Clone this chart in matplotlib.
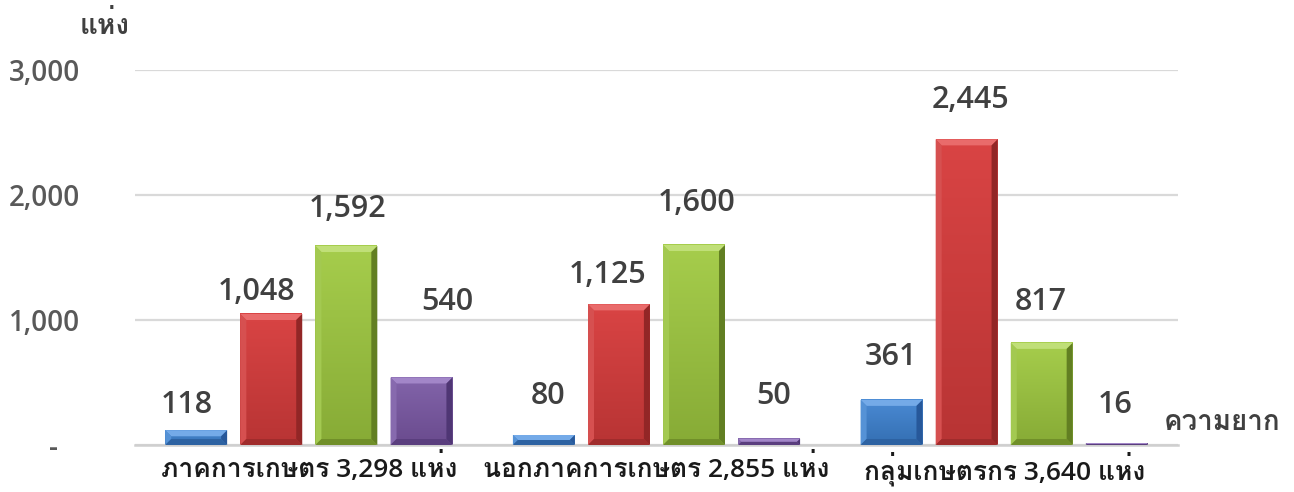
import matplotlib
matplotlib.use('Agg')
import matplotlib.pyplot as plt
from matplotlib import font_manager
from matplotlib.patches import Polygon
from matplotlib.transforms import IdentityTransform
from matplotlib.colors import LinearSegmentedColormap
import numpy as np

# ---------------- data ----------------
categories = ['ภาคการเกษตร 3,298 แห่ง', 'นอกภาคการเกษตร 2,855 แห่ง', 'กลุ่มเกษตรกร 3,640 แห่ง']
series_blue = [118, 80, 361]
series_red = [1048, 1125, 2445]
series_green = [1592, 1600, 817]
series_purple = [540, 50, 16]
ytick_values = [0, 1000, 2000, 3000]
ytick_labels = ['-   ', '1,000', '2,000', '3,000']
y_unit = 'แห่ง'
x_unit = 'ความยาก'

label_dx = [[-9, 4, -1], [-15, -11, 4], [1, 3, -1], [26, 4, -2]]
label_dy = [[25, 39, 43], [22, 29, 39], [37, 42, 41], [75, 43, 38]]

# ---------------- font ----------------
names = {f.name for f in font_manager.fontManager.ttflist}
fam = [n for n in ['Open Sans', 'Loma', 'Noto Sans Thai Looped', 'Noto Sans Thai'] if n in names]
plt.rcParams['font.family'] = fam + ['DejaVu Sans']

W, H = 1294, 492
fig = plt.figure(figsize=(W / 100, H / 100), dpi=100)
ax = fig.add_axes([135 / W, 1 - 445 / H, (1178 - 135) / W, (445 - 70) / H])

series = [series_blue, series_red, series_green, series_purple]
faces = [('#4a8ad4', '#346fb2'), ('#d94444', '#b83434'), ('#a6cd4c', '#87ab36'), ('#8264aa', '#6a4b8e')]
tops = ['#74aae8', '#e96b6b', '#c0df78', '#a286c8']
lefts = ['#5592d6', '#d65050', '#a3c951', '#876aae']
rights = ['#27589a', '#922626', '#627f22', '#4f3674']
bottoms = ['#2d62a2', '#a02c2c', '#708f29', '#5a3e7e']

x = np.arange(len(categories))
step = 0.216
bw = 0.178
FS = 20
FS_CAT = 19
FS_VAL = 22
WT = 'semibold'

ax.set_yticks(ytick_values)
ax.set_yticklabels(ytick_labels)
ax.tick_params(axis='y', length=0, pad=55 * 0.72, labelsize=FS, labelcolor='#595959')
ax.set_xticks(x)
ax.set_xticklabels(categories)
ax.tick_params(axis='x', length=0, pad=5, labelsize=FS_CAT, labelcolor='#1a1a1a')
for lab in ax.get_yticklabels() + ax.get_xticklabels():
    lab.set_fontweight(WT)

ax.grid(axis='y', color='#d9d9d9', linewidth=1.6)
ax.set_axisbelow(True)
for s in ['top', 'right', 'left']:
    ax.spines[s].set_visible(False)
ax.spines['bottom'].set_color('#cfcfcf')
ax.spines['bottom'].set_linewidth(1.8)
ax.set_xlim(-0.5, len(categories) - 0.5)
ax.set_ylim(0, 3000)

ident = IdentityTransform()
for i, vals in enumerate(series):
    offs = (i - 1.5) * step
    cmap = LinearSegmentedColormap.from_list('g%d' % i, [faces[i][0], faces[i][1]])
    for j, v in enumerate(vals):
        x0 = x[j] + offs - bw / 2
        x1 = x[j] + offs + bw / 2
        grad = np.linspace(0, 1, 64).reshape(-1, 1)
        ax.imshow(grad, extent=(x0, x1, 0, v), origin='upper', cmap=cmap, aspect='auto',
                  zorder=2, interpolation='bilinear')
        (X0, Y0) = ax.transData.transform((x0, 0))
        (X1, Y1) = ax.transData.transform((x1, v))
        b = min(6.0, (Y1 - Y0) / 2.0, (X1 - X0) / 2.0)
        polys = [
            ([(X0, Y1), (X1, Y1), (X1 - b, Y1 - b), (X0 + b, Y1 - b)], tops[i]),
            ([(X0, Y0), (X0, Y1), (X0 + b, Y1 - b), (X0 + b, Y0 + b)], lefts[i]),
            ([(X1, Y0), (X1, Y1), (X1 - b, Y1 - b), (X1 - b, Y0 + b)], rights[i]),
            ([(X0, Y0), (X1, Y0), (X1 - b, Y0 + b), (X0 + b, Y0 + b)], bottoms[i]),
        ]
        for pts, c in polys:
            ax.add_patch(Polygon(pts, closed=True, facecolor=c, edgecolor='none',
                                 transform=ident, zorder=3, clip_on=False))
        ax.annotate(f'{v:,}', xy=(x[j] + offs, v), xytext=(label_dx[i][j], label_dy[i][j]),
                    textcoords='offset pixels', ha='center', va='center',
                    fontsize=FS_VAL, fontweight=WT, color='#404040', zorder=5)

ax.set_xlim(-0.5, len(categories) - 0.5)
ax.set_ylim(0, 3000)

fig.text(105 / W, 1 - 27 / H, y_unit, ha='center', va='center', fontsize=FS,
         fontweight='bold', color='#404040')
fig.text(1222 / W, 1 - 422 / H, x_unit, ha='center', va='center', fontsize=FS,
         fontweight='bold', color='#404040')

fig.savefig('out.png', dpi=100)
